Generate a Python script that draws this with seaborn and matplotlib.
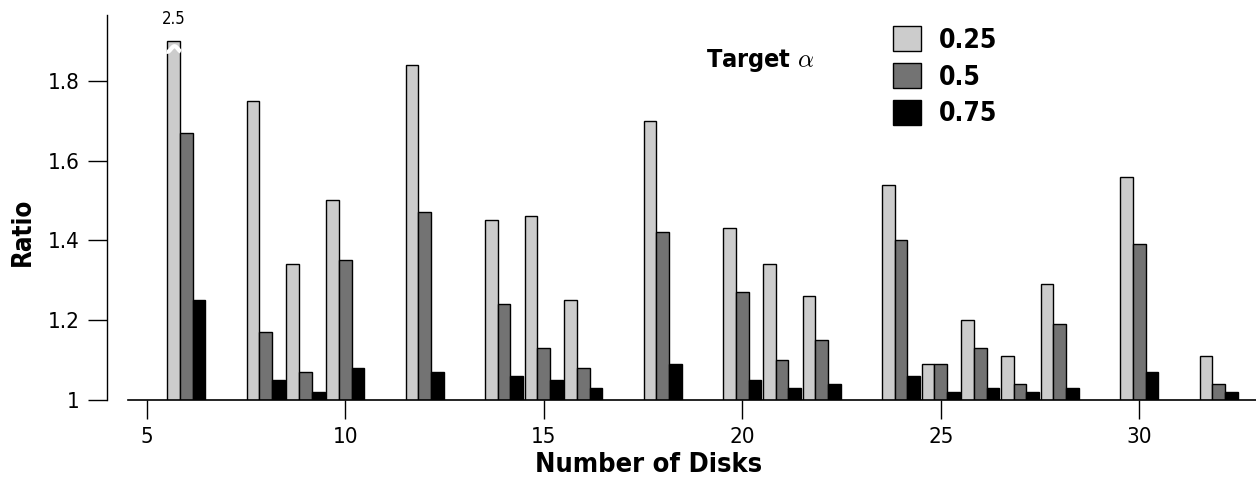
import numpy as np
import pandas as pd
import matplotlib
matplotlib.use("Agg")
import matplotlib.pyplot as plt
import seaborn as sns
from matplotlib.patches import Patch

# ---- data ----
disks = [6, 8, 9, 10, 12, 14, 15, 16, 18, 20, 21, 22, 24, 25, 26, 27, 28, 30, 32]
ratio_025 = [2.5, 1.75, 1.34, 1.50, 1.84, 1.45, 1.46, 1.25, 1.70, 1.43, 1.34, 1.26,
             1.54, 1.09, 1.20, 1.11, 1.29, 1.56, 1.11]
ratio_050 = [1.67, 1.17, 1.07, 1.35, 1.47, 1.24, 1.13, 1.08, 1.42, 1.27, 1.10, 1.15,
             1.40, 1.09, 1.13, 1.04, 1.19, 1.39, 1.04]
ratio_075 = [1.25, 1.05, 1.02, 1.08, 1.07, 1.06, 1.05, 1.03, 1.09, 1.05, 1.03, 1.04,
             1.06, 1.02, 1.03, 1.02, 1.03, 1.07, 1.02]
alpha_labels = ["0.25", "0.5", "0.75"]
colors = ["#cccccc", "#737373", "#000000"]
y_cap = 1.9          # display cap for values off the chart
y_ticks = [1, 1.2, 1.4, 1.6, 1.8]
y_ticklabels = ["1", "1.2", "1.4", "1.6", "1.8"]
x_ticks = [5, 10, 15, 20, 25, 30]

# ---- long table ----
rows = []
for lab, vals in zip(alpha_labels, [ratio_025, ratio_050, ratio_075]):
    for d, v in zip(disks, vals):
        rows.append({"disks": d, "ratio": v, "shown": min(v, y_cap), "alpha": lab})
df = pd.DataFrame(rows)

sns.set_theme(style="white")
plt.rcParams["font.family"] = ["DejaVu Sans"]
plt.rcParams["font.stretch"] = "condensed"
plt.rcParams["mathtext.fontset"] = "cm"
for k in ["text.color", "axes.labelcolor", "xtick.color", "ytick.color"]:
    plt.rcParams[k] = "black"

W, H = 1256, 484
fig = plt.figure(figsize=(W / 100, H / 100), dpi=100)
ax = fig.add_axes([107 / W, (H - 399.7) / H, (W - 107) / W, 384.7 / H])

sns.barplot(data=df, x="disks", y="shown", hue="alpha", hue_order=alpha_labels,
            palette=colors, native_scale=True, width=0.96, errorbar=None,
            edgecolor="black", linewidth=1.0, saturation=1, ax=ax, legend=False)

ax.set_xlim(4, 4 + (W - 107) / 39.7)
ax.set_ylim(1, 1 + 384.7 / 398.5)

ax.set_yticks(y_ticks)
ax.set_yticklabels(y_ticklabels)
ax.set_xticks(x_ticks)
ax.set_xticklabels([str(t) for t in x_ticks])
ax.tick_params(axis="both", direction="out", length=13.5, width=1, color="black",
               labelsize=16, pad=6, bottom=True, left=True)

for s in ["top", "right"]:
    ax.spines[s].set_visible(False)
ax.spines["left"].set_color("black")
ax.spines["left"].set_linewidth(1)
ax.spines["bottom"].set_color("black")
ax.spines["bottom"].set_linewidth(1.2)
ax.spines["bottom"].set_bounds(4.53, ax.get_xlim()[1])

ax.set_xlabel("Number of Disks", fontsize=19.5, fontweight="bold")
ax.set_ylabel("Ratio", fontsize=18.5, fontweight="bold")
ax.xaxis.set_label_coords((649 - 107) / 1149, -(452 - 399.7) / 384.7)
ax.yaxis.set_label_coords(-(107 - 36) / 1149, (399.7 - 232) / 384.7)

# break marker on capped bar(s)
for p in ax.patches:
    if abs(p.get_height() - y_cap) < 1e-9:
        x0, w = p.get_x(), p.get_width()
        xs = np.linspace(x0 - 0.02, x0 + w + 0.02, 30)
        ys = 1.880 - 0.007 * np.sin((xs - x0) / (w + 0.04) * 2 * np.pi + np.pi / 2)
        ax.plot(xs, ys, color="white", lw=3, solid_capstyle="butt", zorder=5, clip_on=False)
        true_v = df.loc[np.isclose(df["shown"], y_cap), "ratio"].iloc[0]
        ax.text(x0 + w / 2, 1.955, f"{true_v:g}", ha="center", va="center",
                fontsize=12, clip_on=False)

# legend
handles = [Patch(facecolor=c, edgecolor="black", linewidth=1) for c in colors]
fig.legend(handles, alpha_labels, loc="upper left",
           bbox_to_anchor=(893 / W, 1 - 26 / H), frameon=False,
           prop={"weight": "bold", "size": 19, "stretch": "condensed"},
           handlelength=1.05, handleheight=1.1, handletextpad=0.7,
           labelspacing=0.35, borderpad=0, borderaxespad=0)
fig.text(706 / W, 1 - 61 / H, r"Target $\alpha$", fontsize=18, fontweight="bold",
         ha="left", va="center")

fig.savefig("out.png", dpi=100)
